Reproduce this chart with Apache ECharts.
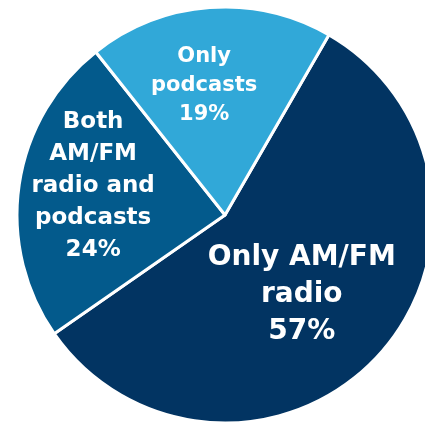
<!DOCTYPE html>
<html>
<head>
<meta charset="utf-8">
<script src="https://cdn.jsdelivr.net/npm/echarts@6/dist/echarts.min.js"></script>
<style>
html,body{margin:0;padding:0;background:#fff;}
#chart{width:425px;height:423px;}
</style>
</head>
<body>
<div id="chart"></div>
<script>
var categories = ['Only AM/FM\nradio', 'Both\nAM/FM\nradio and\npodcasts', 'Only\npodcasts'];
var values = [57, 24, 19];
var colors = ['#023462', '#035A8C', '#31A8D8'];
var labelSizes = [28, 23, 21];
var labelLineHeights = [37, 32, 29];
var labelShift = [[-2, 7], [-26, -13], [-13, -23]];

var chart = echarts.init(document.getElementById('chart'));
chart.setOption({
  animation: false,
  series: [{
    type: 'pie',
    center: [225, 215],
    radius: [0, 208],
    startAngle: 60,
    clockwise: true,
    avoidLabelOverlap: false,
    itemStyle: { borderColor: '#ffffff', borderWidth: 3 },
    label: {
      show: true,
      position: 'inside',
      color: '#ffffff',
      fontFamily: 'DejaVu Sans',
      fontWeight: 'bold',
      align: 'center',
      formatter: function (p) { return p.name + '\n' + p.value + '%'; }
    },
    labelLine: { show: false },
    labelLayout: function (params) {
      var s = labelShift[params.dataIndex];
      return { dx: s[0], dy: s[1] };
    },
    emphasis: { disabled: true },
    data: categories.map(function (c, i) {
      return {
        name: c,
        value: values[i],
        itemStyle: { color: colors[i] },
        label: { fontSize: labelSizes[i], lineHeight: labelLineHeights[i] }
      };
    })
  }]
});
</script>
</body>
</html>
